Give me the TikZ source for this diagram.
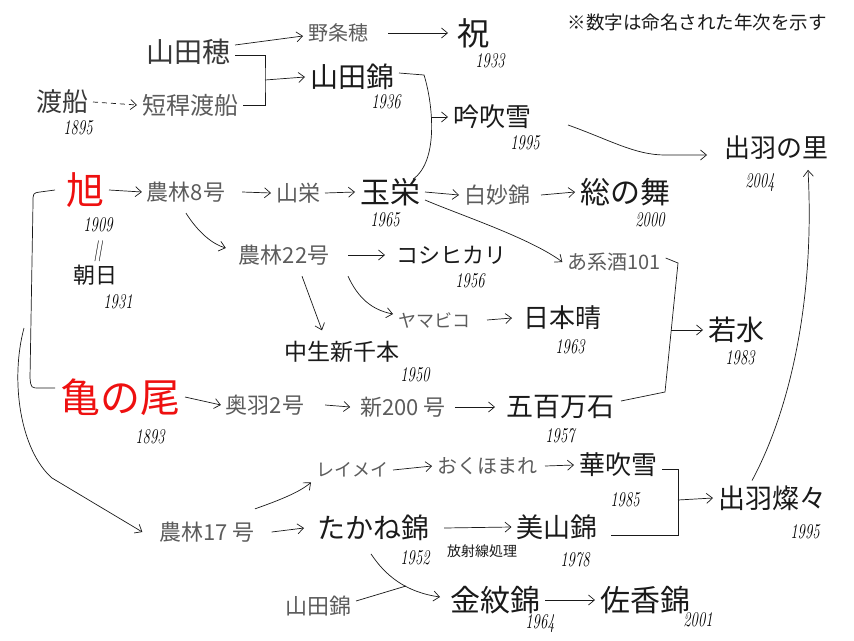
\documentclass[tikz,border=0pt]{standalone}
\usepackage{fontspec}
\newfontfamily\jp{Noto Sans CJK JP}
\usepackage{tikz}
\usetikzlibrary{arrows.meta}

\definecolor{ink}{HTML}{1A1A1A}
\definecolor{pale}{HTML}{5C5C5C}
\definecolor{redink}{HTML}{EE1010}
\newcommand{\yrtext}[1]{\scalebox{0.7}[1]{#1}}

\tikzset{
  rice/.style={font=\jp\fontsize{#1}{#1}\selectfont, text=ink, inner sep=1pt, outer sep=4pt},
  rice/.default=26,
  grayrice/.style={rice=#1, text=pale},
  grayrice/.default=22,
  redrice/.style={rice=#1, text=redink},
  yr/.style={font=\itshape\fontsize{21}{21}\selectfont, text=black, inner sep=0pt},
  line/.style={draw=ink, line width=0.7pt},
  arr/.style={line, -{Straight Barb[length=6pt,width=10pt]}},
}

\begin{document}
\begin{tikzpicture}[x=1pt,y=-1pt]
\useasboundingbox (0,0) rectangle (854,640);
\fill[white] (0,0) rectangle (854,640);

\node[rice=18.5] (note) at (697,22) {※数字は命名された年次を示す};

% top rows
\node[rice=28,text=pale!45!ink] (yamadaho) at (188,52) {山田穂};
\node[grayrice=20] (nojoho) at (338,33) {野条穂};
\node[rice=32] (iwai) at (473,33) {祝};
\node[yr] (y1933) at (490,61) {\yrtext{1933}};
\node[rice=26,text=pale!45!ink] (watari) at (62,102) {渡船};
\node[yr] (y1895) at (78,128) {\yrtext{1895}};
\node[grayrice=24] (tankan) at (190,105) {短稈渡船};
\node[rice=28] (yamanishi) at (352,77) {山田錦};
\node[yr] (y1936) at (386,102) {\yrtext{1936}};
\node[rice=26] (ginfubuki) at (492,117) {吟吹雪};
\node[yr] (y1995a) at (525,143) {\yrtext{1995}};
\node[rice=26] (dewasato) at (776,148) {出羽の里};
\node[yr] (y2004) at (760,183) {\yrtext{2004}};

% asahi group
\node[redrice=38] (asahi) at (85,190) {旭};
\node[yr] (y1909) at (98,225) {\yrtext{1909}};
\node[yr] (eq) at (98,251) {\yrtext{||}};
\node[rice=22] (asahi2) at (95,275) {朝日};
\node[yr] (y1931) at (118,302) {\yrtext{1931}};
\node[grayrice=22] (norin8) at (186,192) {農林8号};
\node[grayrice=22] (yamasakae) at (298,193) {山栄};
\node[rice=30] (tamasakae) at (390,192) {玉栄};
\node[yr] (y1965) at (385,220) {\yrtext{1965}};
\node[grayrice=22] (hakumyo) at (497,195) {白妙錦};
\node[rice=30] (sonomai) at (625,192) {総の舞};
\node[yr] (y2000) at (650,220) {\yrtext{2000}};
\node[grayrice=22] (norin22) at (284,255) {農林22号};
\node[rice=22] (koshi) at (451,255) {コシヒカリ};
\node[yr] (y1956) at (470,281) {\yrtext{1956}};
\node[grayrice=20] (akei) at (614,262) {あ系酒101};
\node[grayrice=18] (yamabiko) at (434,320) {ヤマビコ};
\node[rice=26] (nihonbare) at (562,318) {日本晴};
\node[yr] (y1963) at (570,347) {\yrtext{1963}};
\node[rice=23] (nakate) at (342,352) {中生新千本};
\node[yr] (y1950) at (415,375) {\yrtext{1950}};
\node[rice=28] (wakamizu) at (736,330) {若水};
\node[yr] (y1983) at (740,358) {\yrtext{1983}};

% kamenoo group
\node[redrice=40] (kamenoo) at (120,397) {亀の尾};
\node[yr] (y1893) at (150,437) {\yrtext{1893}};
\node[grayrice=22] (ou2) at (265,405) {奥羽2号};
\node[grayrice=22] (shin200) at (403,407) {新200 号};
\node[rice=27] (gohyaku) at (560,407) {五百万石};
\node[yr] (y1957) at (560,436) {\yrtext{1957}};
\node[grayrice=18] (reimei) at (352,470) {レイメイ};
\node[grayrice=20] (okuhomare) at (487,466) {おくほまれ};
\node[rice=26] (hanafubuki) at (618,465) {華吹雪};
\node[yr] (y1985) at (625,500) {\yrtext{1985}};
\node[rice=27] (sansan) at (772,498) {出羽燦々};
\node[yr] (y1995b) at (805,532) {\yrtext{1995}};
\node[grayrice=22] (norin17) at (207,532) {農林17 号};
\node[rice=28] (takane) at (373,528) {たかね錦};
\node[yr] (y1952) at (415,558) {\yrtext{1952}};
\node[rice=14,outer sep=0pt] (hosha) at (482,551) {放射線処理};
\node[rice=27] (miyama) at (557,527) {美山錦};
\node[yr] (y1978) at (575,560) {\yrtext{1978}};
\node[grayrice=22] (yamanishi2) at (318,606) {山田錦};
\node[rice=30] (kinmon) at (495,600) {金紋錦};
\node[yr] (y1964) at (540,624) {\yrtext{1964}};
\node[rice=30] (sako) at (645,600) {佐香錦};
\node[yr] (y2001) at (698,620) {\yrtext{2001}};

% junctions
\coordinate (j1) at (265,80);
\coordinate (j2) at (431,117);
\coordinate (j3) at (671,330);
\coordinate (j4) at (678,500);
\coordinate (j5) at (406,586);
\coordinate (cA) at (24,328);

% connectors, top
\draw[arr] ([yshift=7pt]yamadaho.east) -- ([yshift=-3pt]nojoho.west);
\draw[arr] ([xshift=15pt]nojoho.east) -- ([xshift=-4pt]iwai.west);
\draw[line] ([yshift=-3pt]yamadaho.east) -| (j1) |- (tankan.east);
\draw[arr] (j1) -- (yamanishi.west);
\draw[arr,dash pattern=on 5pt off 4pt] (watari.east) -- (tankan.west);
\draw[line] ([yshift=4pt]yamanishi.east) -- (424,75) .. controls (432,100) and (440,160) .. ([xshift=-12pt,yshift=-6pt]tamasakae.north east);
\draw[arr] (j2) -- (ginfubuki.west);
\draw[arr] ([xshift=32pt,yshift=-8pt]ginfubuki.east) .. controls (610,140) and (635,155) .. (665,155) -- ([xshift=-12pt,yshift=-7pt]dewasato.west);
\draw[arr] ([xshift=-20pt]sansan.north) .. controls (790,410) and (815,300) .. ([xshift=32pt,yshift=-5pt]dewasato.south);

% asahi lines
\draw[arr] (asahi.east) -- (norin8.west);
\draw[arr] ([xshift=12pt]norin8.east) -- (yamasakae.west);
\draw[arr] (yamasakae.east) -- (tamasakae.west);
\draw[arr] (tamasakae.east) -- (hakumyo.west);
\draw[arr] ([xshift=6pt]hakumyo.east) -- (sonomai.west);
\draw[arr] ([yshift=-8pt]tamasakae.east) .. controls (460,215) and (530,238) .. (akei.west);
\draw[arr] ([yshift=-6pt]norin8.south) .. controls (198,232) and (212,244) .. ([xshift=-8pt,yshift=7pt]norin22.west);
\draw[arr] ([xshift=14pt]norin22.east) -- ([xshift=-6pt]koshi.west);
\draw[arr] ([xshift=18pt,yshift=-6pt]norin22.south) -- ([xshift=-20pt,yshift=6pt]nakate.north);
\draw[arr] ([xshift=64pt,yshift=-6pt]norin22.south) .. controls (358,298) and (372,310) .. ([yshift=6pt]yamabiko.west);
\draw[arr] ([xshift=12pt]yamabiko.east) -- ([xshift=-6pt]nihonbare.west);
\draw[line] ([yshift=4pt]akei.east) -- (678,263) -- (665,392) -- ([xshift=2pt,yshift=6pt]gohyaku.east);
\draw[arr] (j3) -- (wakamizu.west);

% left bracket and long curve
\draw[line] ([xshift=-6pt]asahi.west) -- (40,192) .. controls (33,193) .. (33,203) -- (30,378) .. controls (31,388) .. (40,388) -- ([yshift=9pt]kamenoo.west);
\draw[arr] (cA) .. controls (10,380) and (20,450) .. (52,478) -- ([xshift=-12pt]norin17.west);

% kamenoo lines
\draw[arr] (kamenoo.east) -- (ou2.west);
\draw[arr] ([xshift=16pt]ou2.east) -- ([xshift=-5pt]shin200.west);
\draw[arr] ([xshift=4pt]shin200.east) -- ([xshift=-6pt]gohyaku.west);
\draw[arr] ([xshift=48pt,yshift=8pt]norin17.north) .. controls (280,500) and (300,492) .. (reimei.south west);
\draw[arr] ([xshift=12pt]norin17.east) -- ([xshift=-8pt]takane.west);
\draw[arr] (reimei.east) -- (okuhomare.west);
\draw[arr] ([xshift=3pt]okuhomare.east) -- (hanafubuki.west);
\draw[line] ([yshift=-4pt]hanafubuki.east) -- (678,469) -- (678,535) -- ([xshift=8pt,yshift=-8pt]miyama.east);
\draw[arr] (j4) -- (sansan.west);
\draw[arr] ([xshift=10pt]takane.east) -- (miyama.west);
\draw[arr] ([xshift=-2pt,yshift=-8pt]takane.south) .. controls (385,575) and (405,592) .. ([xshift=-5pt,yshift=3pt]kinmon.west);
\draw[line] ([yshift=5pt]yamanishi2.east) -- (j5);
\draw[arr] (kinmon.east) -- (sako.west);
\end{tikzpicture}
\end{document}
